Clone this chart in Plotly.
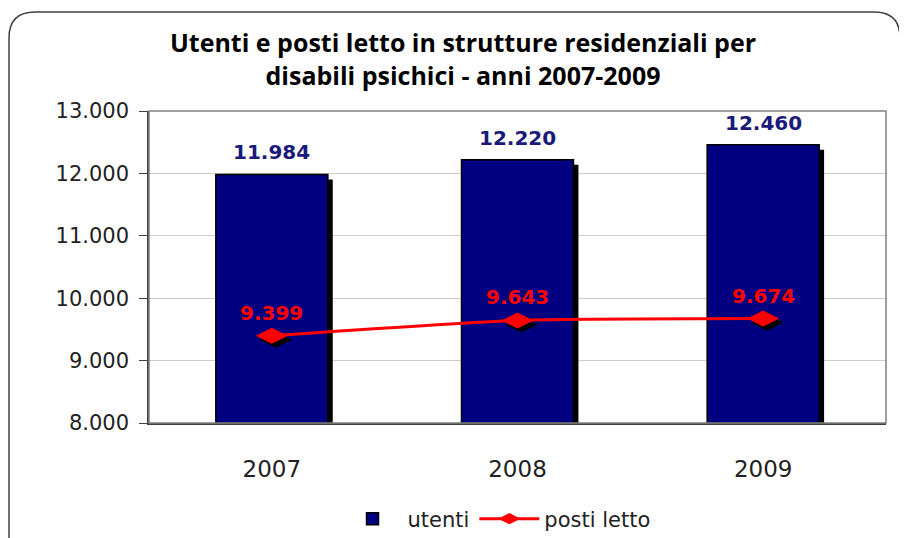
import plotly.graph_objects as go

years = ["2007", "2008", "2009"]
utenti = [11984, 12220, 12460]
posti_letto = [9399, 9643, 9674]
y_ticks = [8000, 9000, 10000, 11000, 12000, 13000]

NAVY = "#000080"
RED = "#FF0000"

def fmt(v):
    return f"{v:,}".replace(",", ".")

xs = list(range(len(years)))

fig = go.Figure()

# bar shadows
fig.add_trace(go.Bar(
    x=xs, y=[v - 8000 - 80 for v in utenti], base=8000,
    width=0.456, offset=-0.208, marker=dict(color="black", line=dict(width=0)),
    showlegend=False, hoverinfo="skip"))
# bars
fig.add_trace(go.Bar(
    x=xs, y=[v - 8000 for v in utenti], base=8000, name="utenti",
    width=0.456, offset=-0.228,
    marker=dict(color=NAVY, line=dict(color="black", width=1.5))))
# marker shadows
fig.add_trace(go.Scatter(
    x=[x + 0.016 for x in xs], y=[v - 65 for v in posti_letto], mode="markers",
    marker=dict(symbol="diamond-wide", size=23, color="black"),
    showlegend=False, hoverinfo="skip"))
# line
fig.add_trace(go.Scatter(
    x=xs, y=posti_letto, mode="lines+markers", name="posti letto",
    line=dict(color=RED, width=3, shape="spline", smoothing=0.6),
    marker=dict(symbol="diamond-wide", size=23, color=RED)))

annotations = []
for x, v in zip(xs, utenti):
    annotations.append(dict(x=x, y=v, text=fmt(v), showarrow=False, yshift=22,
                            font=dict(family="DejaVu Sans", size=20, color="#1a1a7a", weight="bold"),
                            xref="x", yref="y"))
for x, v in zip(xs, posti_letto):
    annotations.append(dict(x=x, y=v, text=fmt(v), showarrow=False, yshift=23,
                            font=dict(family="DejaVu Sans", size=20, color=RED, weight="bold"),
                            xref="x", yref="y"))

# screen-pixel layout (page body has an 8px offset)
OFF = 8
W, H = 907, 538
L, R, T, B = 149, 886, 111, 423
def px(x): return (x - L) / (R - L)
def py(y): return (B - y) / (B - T)
x0, x1, y0, y1, r = 9, 900, 12, 580, 26
path = (f"M {px(x0)},{py(y1)} L {px(x0)},{py(y0 + r)} "
        f"Q {px(x0)},{py(y0)} {px(x0 + r)},{py(y0)} "
        f"L {px(x1 - r)},{py(y0)} Q {px(x1)},{py(y0)} {px(x1)},{py(y0 + r)} "
        f"L {px(x1)},{py(y1)}")
shapes = [dict(type="path", path=path, xref="paper", yref="paper",
               line=dict(color="#404040", width=1.5), layer="below"),
          dict(type="rect", x0=0, x1=1, y0=0, y1=1, xref="paper", yref="paper",
               line=dict(color="#808080", width=1.5), layer="above")]

fig.update_layout(
    width=W, height=H,
    margin=dict(l=L - OFF, r=W - R + OFF, t=T - OFF, b=H - B + OFF, autoexpand=False),
    paper_bgcolor="white", plot_bgcolor="white",
    barmode="overlay",
    separators=",.",
    title=dict(text="Utenti e posti letto in strutture residenziali per<br>disabili psichici - anni 2007-2009",
               x=(463 - OFF) / W, xanchor="center", xref="container",
               y=1 - (52 - OFF) / H, yanchor="middle",
               font=dict(family="Open Sans", size=25, color="black", weight="bold")),
    xaxis=dict(range=[-0.5, 2.5], tickvals=xs, ticktext=years, showgrid=False,
               showline=True, linecolor="#404040", linewidth=1.5,
               ticks="", ticklabelstandoff=25, automargin=False,
               tickfont=dict(family="DejaVu Sans", size=23, color="#222")),
    yaxis=dict(range=[8000, 13000], tickvals=y_ticks, tickformat=",.0f",
               showgrid=True, gridcolor="#cccccc", gridwidth=1,
               showline=True, linecolor="#404040", linewidth=1.5,
               ticks="outside", ticklen=8, tickcolor="#404040",
               ticklabelstandoff=6, automargin=False,
               tickfont=dict(family="DejaVu Sans", size=21, color="#222")),
    legend=dict(orientation="h", x=0.5 - 21 / (R - L), xanchor="center",
                y=-(519 - B) / (B - T), yanchor="middle",
                font=dict(family="DejaVu Sans", size=21, color="#222"),
                traceorder="normal", itemwidth=60),
    annotations=annotations,
    shapes=shapes,
)

fig.write_html("out.html")
